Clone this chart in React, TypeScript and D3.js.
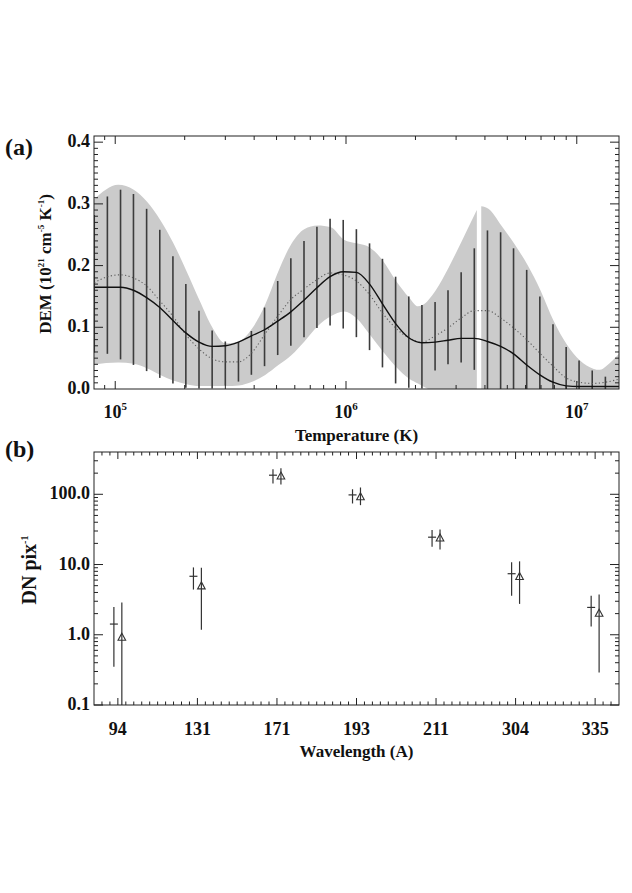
import React, { useEffect, useRef } from 'react';
import * as d3 from 'd3';

// ---- panel (a): DEM vs temperature ----
// temperatures of the black error bars (log10 K)
const barLogT = [4.909, 4.966, 5.023, 5.079, 5.136, 5.193, 5.250, 5.306, 5.363, 5.420,
  5.477, 5.534, 5.590, 5.647, 5.704, 5.761, 5.818, 5.874, 5.931, 5.988,
  6.045, 6.102, 6.158, 6.215, 6.272, 6.329, 6.386, 6.442, 6.499, 6.556,
  6.613, 6.670, 6.726, 6.783, 6.840, 6.897, 6.954, 7.010, 7.067, 7.124];
const barTop = [0.282, 0.312, 0.323, 0.316, 0.292, 0.258, 0.215, 0.170, 0.127, 0.095,
  0.077, 0.076, 0.094, 0.132, 0.175, 0.212, 0.240, 0.263, 0.276, 0.274,
  0.259, 0.236, 0.211, 0.182, 0.150, 0.136, 0.141, 0.160, 0.189, 0.228,
  0.257, 0.254, 0.228, 0.193, 0.150, 0.105, 0.068, 0.046, 0.030, 0.020];
const barBottom = [0.059, 0.057, 0.048, 0.039, 0.029, 0.018, 0.009, 0.002, 0.001, 0.001,
  0.006, 0.012, 0.023, 0.037, 0.055, 0.070, 0.084, 0.099, 0.103, 0.098,
  0.084, 0.063, 0.035, 0.009, 0.002, 0.001, 0.030, 0.040, 0.043, 0.031,
  0, 0, 0, 0, 0, 0, 0, 0, 0, 0];

// solid and dotted DEM curves
const curveLogT = [...barLogT, 7.183];
const solidDem = [0.165, 0.165, 0.165, 0.160, 0.148, 0.132, 0.111, 0.091, 0.076, 0.069,
  0.070, 0.076, 0.086, 0.096, 0.110, 0.125, 0.144, 0.164, 0.182, 0.190,
  0.189, 0.170, 0.138, 0.106, 0.083, 0.075, 0.076, 0.079, 0.082, 0.082,
  0.077, 0.069, 0.057, 0.039, 0.023, 0.011, 0.005, 0.004, 0.004, 0.004, 0.004];
const dottedDem = [0.172, 0.182, 0.185, 0.180, 0.167, 0.143, 0.118, 0.088, 0.065, 0.049,
  0.044, 0.044, 0.058, 0.088, 0.118, 0.145, 0.162, 0.177, 0.188, 0.185,
  0.175, 0.153, 0.123, 0.099, 0.083, 0.076, 0.086, 0.099, 0.115, 0.127,
  0.127, 0.115, 0.099, 0.080, 0.058, 0.037, 0.018, 0.011, 0.009, 0.011, 0.016];

// grey envelope (null = gap)
const bandLogT = [4.908, 5.013, 5.080, 5.137, 5.195, 5.251, 5.309, 5.366, 5.422, 5.478,
  5.536, 5.593, 5.650, 5.707, 5.763, 5.819, 5.877, 5.934, 5.991, 6.046,
  6.104, 6.160, 6.217, 6.274, 6.312, 6.331, 6.387, 6.445, 6.502, 6.559,
  6.567, 6.572, 6.580, 6.586, 6.617, 6.673, 6.730, 6.788, 6.844, 6.900,
  6.957, 7.014, 7.071, 7.100, 7.127, 7.183];
const bandUpper = [0.307, 0.331, 0.323, 0.304, 0.274, 0.237, 0.191, 0.143, 0.099, 0.074,
  0.077, 0.098, 0.137, 0.191, 0.235, 0.259, 0.265, 0.262, 0.242, 0.236,
  0.229, 0.208, 0.175, 0.148, 0.134, 0.136, 0.159, 0.197, 0.240, 0.284,
  0.290, null, null, 0.296, 0.292, 0.265, 0.235, 0.200, 0.159, 0.110,
  0.072, 0.046, 0.033, 0.031, 0.037, 0.057];
const bandLower = [0.043, 0.046, 0.044, 0.037, 0.026, 0.017, 0.011, 0.008, 0.008, 0.008,
  0.009, 0.015, 0.026, 0.042, 0.058, 0.080, 0.105, 0.121, 0.129, 0.118,
  0.091, 0.064, 0.039, 0.020, 0.012, 0.008, 0, 0, 0, 0,
  0, null, null, 0, 0, 0, 0, 0, 0, 0,
  0, 0, 0, 0, 0, 0];

const demTicks = [0.0, 0.1, 0.2, 0.3, 0.4];
const tempTicks = [5, 6, 7];

// ---- panel (b): counts per channel ----
const channels = ['94', '131', '171', '193', '211', '304', '335'];
const observed = [1.42, 6.8, 187, 98, 24.5, 7.4, 2.45];
const observedLow = [0.35, 4.4, 142, 74, 17.9, 3.6, 1.31];
const observedHigh = [2.49, 9.1, 228, 118, 31, 10.8, 3.6];
const modelled = [0.93, 5.0, 183, 93, 24, 6.8, 2.04];
const modelledLow = [0.05, 1.18, 138, 70, 16.4, 2.75, 0.29];
const modelledHigh = [2.89, 9.0, 235, 125, 31.6, 11.1, 3.73];
const countTicks = [0.1, 1, 10, 100];
const countTickLabels = ['0.1', '1.0', '10.0', '100.0'];

const FONT = '"Liberation Serif", "Times New Roman", serif';

type Part = [string, boolean];

function writeParts(sel: any, parts: Part[], supSize: number, shift: number) {
  let raised = false;
  parts.forEach(([t, sup]) => {
    const ts = sel.append('tspan').text(t);
    if (sup) {
      ts.attr('font-size', supSize);
      if (!raised) { ts.attr('dy', -shift); raised = true; }
    } else if (raised) {
      ts.attr('dy', shift);
      raised = false;
    }
  });
}

const App = () => {
  const ref = useRef<SVGSVGElement>(null);

  useEffect(() => {
    const svg = d3.select(ref.current);
    svg.selectAll('*').remove();

    const L = 94, R = 619;
    const aT = 136, aB = 389;
    const bT = 452, bB = 705;
    const axisColor = '#222';

    const defs = svg.append('defs');
    defs.append('clipPath').attr('id', 'clipA').append('rect')
      .attr('x', L).attr('y', aT).attr('width', R - L).attr('height', aB - aT);
    defs.append('clipPath').attr('id', 'clipB').append('rect')
      .attr('x', L).attr('y', bT).attr('width', R - L).attr('height', bB - bT);

    // ================= panel (a) =================
    const xA = d3.scaleLog().domain([Math.pow(10, 4.908), Math.pow(10, 7.183)]).range([L, R]);
    const yA = d3.scaleLinear().domain([0, 0.41]).range([aB, aT]);

    const gA = svg.append('g').attr('clip-path', 'url(#clipA)');

    const band = bandLogT.map((t, i) => ({ t, hi: bandUpper[i], lo: bandLower[i] }));
    const area = d3.area<any>()
      .defined(d => d.hi !== null)
      .x(d => xA(Math.pow(10, d.t)))
      .y0(d => yA(d.lo) + 2)
      .y1(d => yA(d.hi))
      .curve(d3.curveMonotoneX);
    gA.append('path').datum(band).attr('d', area).attr('fill', '#cbcbcb');

    gA.selectAll('line.bar')
      .data(barLogT)
      .enter()
      .append('line')
      .attr('class', 'bar')
      .attr('x1', d => xA(Math.pow(10, d)))
      .attr('x2', d => xA(Math.pow(10, d)))
      .attr('y1', (d, i) => yA(barBottom[i]) + (barBottom[i] === 0 ? 2 : 0))
      .attr('y2', (d, i) => yA(barTop[i]))
      .attr('stroke', '#3c3c3c')
      .attr('stroke-width', 1.6);

    const line = d3.line<number>()
      .x((d, i) => xA(Math.pow(10, curveLogT[i])))
      .y(d => yA(d))
      .curve(d3.curveMonotoneX);

    gA.append('path').datum(dottedDem).attr('d', line)
      .attr('fill', 'none').attr('stroke', '#5e5e5e').attr('stroke-width', 1.1)
      .attr('stroke-dasharray', '1.2,2.4');
    gA.append('path').datum(solidDem).attr('d', line)
      .attr('fill', 'none').attr('stroke', '#111').attr('stroke-width', 1.4);

    // frame and ticks
    svg.append('rect').attr('x', L).attr('y', aT).attr('width', R - L).attr('height', aB - aT)
      .attr('fill', 'none').attr('stroke', axisColor).attr('stroke-width', 1);

    const ticksA = svg.append('g').attr('stroke', axisColor).attr('stroke-width', 1);
    const minorT: number[] = [];
    for (let d = 4; d <= 7; d++) {
      for (let k = 2; k <= 9; k++) {
        const v = k * Math.pow(10, d);
        if (v > xA.domain()[0] && v < xA.domain()[1]) minorT.push(v);
      }
    }
    minorT.forEach(v => {
      const x = xA(v);
      ticksA.append('line').attr('x1', x).attr('x2', x).attr('y1', aB).attr('y2', aB - 4);
      ticksA.append('line').attr('x1', x).attr('x2', x).attr('y1', aT).attr('y2', aT + 4);
    });
    tempTicks.forEach(p => {
      const x = xA(Math.pow(10, p));
      ticksA.append('line').attr('x1', x).attr('x2', x).attr('y1', aB).attr('y2', aB - 8);
      ticksA.append('line').attr('x1', x).attr('x2', x).attr('y1', aT).attr('y2', aT + 8);
    });
    d3.range(1, 41).forEach(i => {
      const v = i / 100;
      const y = yA(v);
      const len = i % 10 === 0 ? 9 : 4;
      ticksA.append('line').attr('x1', L).attr('x2', L + len).attr('y1', y).attr('y2', y);
      ticksA.append('line').attr('x1', R).attr('x2', R - len).attr('y1', y).attr('y2', y);
    });

    const txt = svg.append('g').attr('font-family', FONT).attr('font-weight', 'bold').attr('fill', '#111');

    demTicks.forEach(v => {
      txt.append('text').attr('x', 90).attr('y', yA(v) + 5).attr('text-anchor', 'end')
        .attr('font-size', 18).text(v.toFixed(1));
    });
    tempTicks.forEach(p => {
      const t = txt.append('text').attr('x', xA(Math.pow(10, p))).attr('y', 418)
        .attr('text-anchor', 'middle').attr('font-size', 18);
      writeParts(t, [['10', false], [String(p), true]], 11, 8);
    });
    txt.append('text').attr('x', (L + R) / 2).attr('y', 441).attr('text-anchor', 'middle')
      .attr('font-size', 17).text('Temperature (K)');
    const demTitle = txt.append('text').attr('transform', 'translate(51,264) rotate(-90)')
      .attr('text-anchor', 'middle').attr('font-size', 17);
    writeParts(demTitle, [['DEM (10', false], ['21', true], [' cm', false], ['-5', true],
      [' K', false], ['-1', true], [')', false]], 9, 7);
    txt.append('text').attr('x', 5).attr('y', 155).attr('font-size', 24).text('(a)');

    // ================= panel (b) =================
    const xB = d3.scaleLinear().domain([-0.3, 6.3]).range([L, R]);
    const yB = d3.scaleLog().domain([0.1, 400]).range([bB, bT]);
    const gB = svg.append('g').attr('clip-path', 'url(#clipB)');

    const errColor = '#333';
    const offs = 0.05;
    channels.forEach((c, i) => {
      const xo = xB(i - offs);
      const xm = xB(i + offs);
      gB.append('line').attr('x1', xo).attr('x2', xo)
        .attr('y1', yB(observedLow[i])).attr('y2', yB(observedHigh[i]))
        .attr('stroke', errColor).attr('stroke-width', 1.2);
      gB.append('line').attr('x1', xo - 4).attr('x2', xo + 4)
        .attr('y1', yB(observed[i])).attr('y2', yB(observed[i]))
        .attr('stroke', errColor).attr('stroke-width', 1.2);
      gB.append('line').attr('x1', xm).attr('x2', xm)
        .attr('y1', yB(modelledLow[i])).attr('y2', yB(modelledHigh[i]))
        .attr('stroke', errColor).attr('stroke-width', 1.2);
      const ym = yB(modelled[i]);
      gB.append('path')
        .attr('d', `M${xm},${ym - 3.8}L${xm + 3.8},${ym + 3.2}L${xm - 3.8},${ym + 3.2}Z`)
        .attr('fill', 'none').attr('stroke', errColor).attr('stroke-width', 1.1);
    });

    svg.append('rect').attr('x', L).attr('y', bT).attr('width', R - L).attr('height', bB - bT)
      .attr('fill', 'none').attr('stroke', axisColor).attr('stroke-width', 1);

    const ticksB = svg.append('g').attr('stroke', axisColor).attr('stroke-width', 1);
    d3.range(-2, 64).forEach(j => {
      const v = j / 10;
      if (v <= -0.3 || v >= 6.3) return;
      const x = xB(v);
      const len = j % 10 === 0 ? 7 : 3.5;
      ticksB.append('line').attr('x1', x).attr('x2', x).attr('y1', bB).attr('y2', bB - len);
      ticksB.append('line').attr('x1', x).attr('x2', x).attr('y1', bT).attr('y2', bT + len);
    });
    for (let d = -1; d <= 2; d++) {
      for (let k = 1; k <= 9; k++) {
        const v = k * Math.pow(10, d);
        if (v < 0.1 || v >= 400) continue;
        const y = yB(v);
        const len = k === 1 ? 9 : 4;
        ticksB.append('line').attr('x1', L).attr('x2', L + len).attr('y1', y).attr('y2', y);
        ticksB.append('line').attr('x1', R).attr('x2', R - len).attr('y1', y).attr('y2', y);
      }
    }

    countTicks.forEach((v, i) => {
      txt.append('text').attr('x', 90).attr('y', yB(v) + 5).attr('text-anchor', 'end')
        .attr('font-size', 18).text(countTickLabels[i]);
    });
    channels.forEach((c, i) => {
      txt.append('text').attr('x', xB(i)).attr('y', 735).attr('text-anchor', 'middle')
        .attr('font-size', 18).text(c);
    });
    txt.append('text').attr('x', (L + R) / 2).attr('y', 757).attr('text-anchor', 'middle')
      .attr('font-size', 17).text('Wavelength (A)');
    const dnTitle = txt.append('text').attr('transform', 'translate(36,570) rotate(-90)')
      .attr('text-anchor', 'middle').attr('font-size', 20);
    writeParts(dnTitle, [['DN pix', false], ['-1', true]], 10, 8);
    txt.append('text').attr('x', 5).attr('y', 457).attr('font-size', 24).text('(b)');
  }, []);

  return (
    <svg ref={ref} width={632} height={893}
      style={{ position: 'absolute', left: 0, top: 0, background: '#fff' }} />
  );
};

export default App;
